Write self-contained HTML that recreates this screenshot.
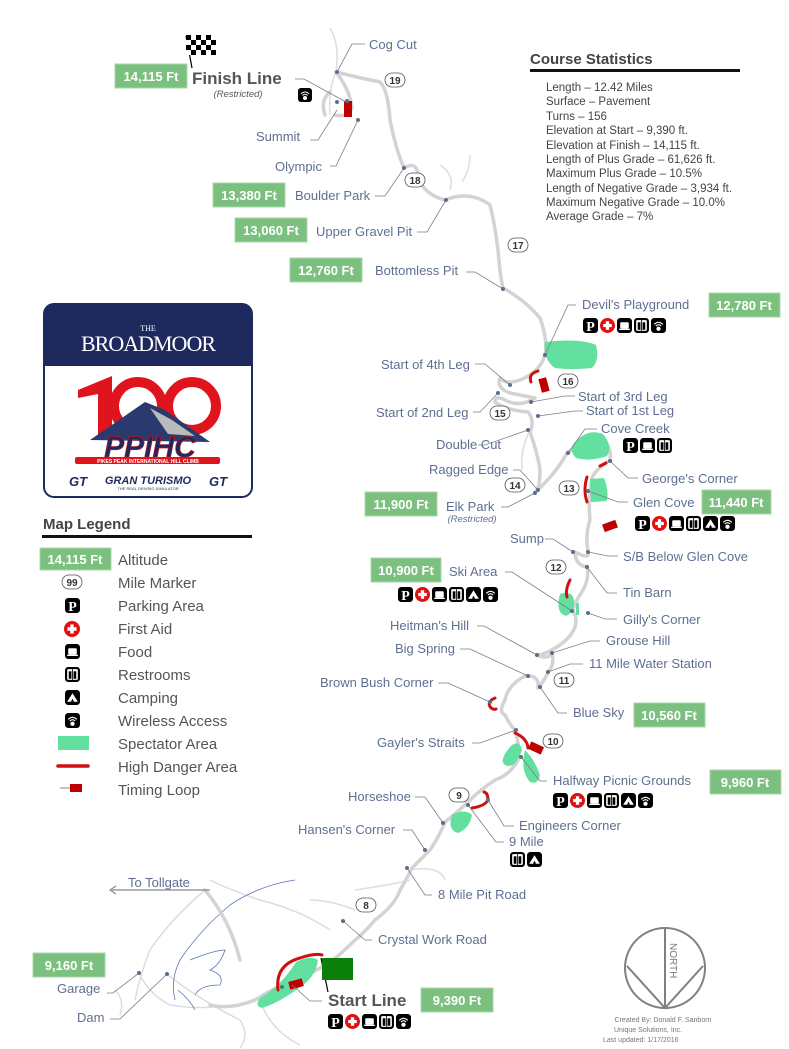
<!DOCTYPE html>
<html><head><meta charset="utf-8"><style>
html,body{margin:0;padding:0;background:#fff;}
svg{display:block;}
.l{font-family:"Liberation Sans",sans-serif;font-size:13px;fill:#5f6f91;}
.alt{font-family:"Liberation Sans",sans-serif;font-size:13px;font-weight:bold;fill:#fff;text-anchor:middle;}
.lg{font-family:"Liberation Sans",sans-serif;font-size:15px;fill:#555;}
.st{font-family:"Liberation Sans",sans-serif;font-size:11.5px;fill:#444;}
.mm{font-family:"Liberation Sans",sans-serif;font-size:10px;font-weight:bold;fill:#333;text-anchor:middle;}
.ld{stroke:#7a7f88;stroke-width:0.8;fill:none;}
.rd{stroke:#d3d3d3;stroke-width:3.5;fill:none;stroke-linecap:round;stroke-linejoin:round;}
.rd2{stroke:#ddd;stroke-width:1.5;fill:none;}
.dot{fill:#5b6f8a;}
.sp{fill:#63e0a0;}
.dg{stroke:#d01010;stroke-width:3;fill:none;stroke-linecap:round;}
</style></head><body>
<svg width="789" height="1049" viewBox="0 0 789 1049" xmlns="http://www.w3.org/2000/svg">
<defs>
<symbol id="iP" viewBox="0 0 14 14"><rect width="14" height="14" rx="3" fill="#000"/><text x="7" y="12" font-family="Liberation Serif,serif" font-weight="bold" font-size="13" fill="#fff" text-anchor="middle">P</text></symbol>
<symbol id="iA" viewBox="0 0 14 14"><circle cx="7" cy="7" r="7" fill="#e01010"/><rect x="5.5" y="3" width="3" height="8" fill="#fff"/><rect x="3" y="5.5" width="8" height="3" fill="#fff"/></symbol>
<symbol id="iF" viewBox="0 0 14 14"><rect width="14" height="14" rx="3" fill="#000"/><rect x="3" y="4" width="8" height="6" rx="1" fill="#fff"/><rect x="2" y="10" width="10" height="1.2" fill="#fff"/></symbol>
<symbol id="iR" viewBox="0 0 14 14"><rect width="14" height="14" rx="3" fill="#000"/><rect x="2" y="2" width="10" height="10" rx="1" fill="#fff"/><rect x="3.5" y="4" width="2.5" height="7" fill="#000"/><rect x="8" y="4" width="2.5" height="7" fill="#000"/><rect x="6.7" y="2" width="0.8" height="10" fill="#000"/></symbol>
<symbol id="iC" viewBox="0 0 14 14"><rect width="14" height="14" rx="3" fill="#000"/><polygon points="7,3 12,11 2,11" fill="#fff"/><polygon points="7,8 8.5,11 5.5,11" fill="#000"/></symbol>
<symbol id="iW" viewBox="0 0 14 14"><rect width="14" height="14" rx="3" fill="#000"/><path d="M3,6 Q7,2 11,6 M4.5,7.5 Q7,5 9.5,7.5" stroke="#fff" stroke-width="1" fill="none"/><circle cx="7" cy="10" r="2" fill="#fff"/></symbol>
</defs>

<g class="rd2">
<path d="M330,28 Q340,45 336,72"/>
<path d="M336,72 Q328,90 330,115"/>
<path d="M440,165 Q455,175 450,190 M462,182 Q470,170 470,155"/>
<path d="M530,430 Q520,450 522,470"/>
<path d="M210,880 Q230,890 260,900 Q300,910 330,930"/>
<path d="M205,890 Q170,920 150,950 Q140,975 135,1000"/>
<path d="M140,975 Q150,995 170,1005 Q200,1010 230,1005"/>
<path d="M168,975 Q200,1000 240,1020"/>
<path d="M240,1020 Q250,1035 240,1048"/>
<path d="M260,1000 Q270,1030 300,1045"/>
<path d="M355,910 Q330,900 310,900"/>
<path d="M355,890 Q390,885 410,880"/>
<path d="M410,870 Q440,865 445,880"/>
<path d="M115,990 Q125,1000 120,1015"/>
</g>
<g stroke="#5874b0" stroke-width="0.8" fill="none">
<path d="M295,880 Q260,885 230,905 Q200,930 180,960 Q170,980 175,1000"/>
<path d="M190,960 Q215,950 225,950 Q220,965 210,970 Q225,975 220,985 Q200,985 195,995"/>
<path d="M178,990 Q190,1000 195,1010"/>
</g>

<path class="rd" d="M336,72 Q360,78 380,82 Q388,90 390,120 Q396,150 404,168 Q418,160 418,178 Q425,195 445,200 Q470,190 490,205 Q495,225 498,250 Q500,275 503,288 Q525,300 540,318 Q548,340 545,355 Q540,372 520,380 Q505,385 500,378 Q496,388 510,393 Q525,396 535,398 Q520,408 505,400 Q495,395 495,402 Q505,410 528,412 Q535,420 530,432 Q538,455 540,470 Q540,488 535,492 Q555,475 567,453 Q585,440 600,438 Q612,445 610,460 Q595,470 592,478 Q588,500 590,520 Q585,535 588,552 Q590,560 575,552 Q575,565 587,567 Q590,580 580,595 Q570,610 575,615 Q580,630 560,645 Q545,655 537,655 Q548,660 552,653 Q555,665 548,672 Q545,680 538,688 Q540,675 525,676 Q508,685 505,700 Q498,712 505,715 Q510,725 515,730 Q520,745 518,760 Q510,775 495,780 Q480,790 470,800 Q460,810 445,822 Q440,835 430,850 Q418,862 412,868 Q405,882 400,890 Q395,905 375,920 Q362,935 355,940 Q340,955 330,962 Q310,975 290,982 Q270,990 255,1000"/>
<path class="rd" d="M336,72 Q350,90 352,108 Q348,118 335,115 M330,92 Q320,100 325,115"/>
<path class="rd" stroke-width="2" d="M255,1000 Q230,1010 210,1005 M205,890 Q230,920 240,960"/>

<path class="sp" d="M545,342 Q580,338 596,345 Q600,360 592,368 Q570,370 555,368 Q543,360 545,342Z"/>
<path class="sp" d="M575,442 Q588,428 603,434 Q613,446 607,456 Q590,462 576,458 Q568,450 575,442Z"/>
<path class="sp" d="M590,479 L604,478 Q609,490 607,501 L591,502 Z"/>
<path class="sp" d="M560,594 Q572,590 574,600 Q575,612 566,616 Q555,613 560,594Z"/>
<path class="sp" d="M576,603 L579,603 L579,615 L576,615Z"/>
<path class="sp" d="M512,745 Q520,740 522,750 Q515,770 505,765 Q498,760 512,745Z"/>
<path class="sp" d="M525,750 Q535,760 540,775 Q538,785 530,782 Q520,770 525,750Z"/>
<path class="sp" d="M452,815 Q465,808 472,815 Q470,828 458,833 Q447,830 452,815Z"/>
<path class="sp" d="M296,962 Q310,955 318,960 Q316,978 296,990 Q278,1003 262,1008 Q254,1006 260,998 Q282,985 296,962Z"/>

<path class="dg" d="M538,371 Q528,374 531,382"/>
<path class="dg" d="M587,477 Q583,490 587,502"/>
<path class="dg" d="M600,466 L606,463"/>
<path class="dg" d="M570,580 Q565,590 567,597"/>
<path class="dg" d="M495,698 Q486,702 491,708 Q494,710 496,709"/>
<path class="dg" d="M515,733 Q527,738 528,748"/>
<path class="dg" d="M472,808 Q485,806 488,800 Q488,793 484,792"/>
<path class="dg" d="M278,990 Q275,965 300,958 Q315,953 322,955"/>

<rect x="344" y="101" width="8" height="16" fill="#c00000"/>
<rect x="540" y="378" width="8" height="14" fill="#c00000" transform="rotate(-15 544 385)"/>
<rect x="603" y="522" width="14" height="8" fill="#c00000" transform="rotate(-20 610 526)"/>
<rect x="529" y="744" width="14" height="8" fill="#c00000" transform="rotate(25 536 748)"/>
<rect x="289" y="980" width="14" height="8" fill="#c00000" transform="rotate(-15 296 984)"/>

<g class="ld">
<path d="M337,72 L352,44 L365,44"/>
<path d="M295,79 L304,79 L346,102"/>
<path d="M310,140 L318,140 L337,110"/>
<path d="M330,166 L336,166 L358,120"/>
<path d="M375,196 L385,196 L404,168"/>
<path d="M417,232 L427,232 L446,200"/>
<path d="M466,272 L475,272 L503,289"/>
<path d="M576,305 L568,305 L545,355"/>
<path d="M475,364 L485,364 L510,385"/>
<path d="M575,396 L565,396 L531,402"/>
<path d="M473,412 L480,412 L498,393"/>
<path d="M583,411 L575,411 L538,416"/>
<path d="M478,445 L485,445 L528,430"/>
<path d="M597,429 L585,429 L568,453"/>
<path d="M513,470 L520,470 L538,490"/>
<path d="M638,478 L628,478 L610,461"/>
<path d="M501,507 L508,507 L535,493"/>
<path d="M628,502 L618,502 L588,491"/>
<path d="M545,539 L553,539 L573,552"/>
<path d="M618,556 L608,556 L588,552"/>
<path d="M505,572 L512,572 L572,611"/>
<path d="M617,593 L607,593 L587,567"/>
<path d="M617,619 L605,619 L588,613"/>
<path d="M477,626 L484,626 L537,655"/>
<path d="M600,641 L590,641 L552,653"/>
<path d="M460,649 L470,649 L528,676"/>
<path d="M583,664 L570,664 L548,672"/>
<path d="M438,683 L448,683 L490,702"/>
<path d="M567,713 L558,713 L540,687"/>
<path d="M472,743 L480,743 L516,730"/>
<path d="M547,781 L540,781 L521,757"/>
<path d="M415,797 L425,797 L443,823"/>
<path d="M514,826 L504,826 L488,800"/>
<path d="M504,842 L496,842 L468,805"/>
<path d="M403,830 L412,830 L425,850"/>
<path d="M432,895 L425,895 L407,868"/>
<path d="M372,940 L365,940 L343,921"/>
<path d="M107,993 L113,993 L139,973"/>
<path d="M110,1019 L120,1019 L167,974"/>
<path d="M322,1001 L310,1001 L292,985"/>
</g>
<g class="dot">
<circle cx="337" cy="72" r="2"/><circle cx="347" cy="101" r="2"/><circle cx="337" cy="102" r="2"/><circle cx="358" cy="120" r="2"/>
<circle cx="404" cy="168" r="2"/><circle cx="446" cy="200" r="2"/><circle cx="503" cy="289" r="2"/><circle cx="545" cy="355" r="2"/>
<circle cx="510" cy="385" r="2"/><circle cx="531" cy="402" r="2"/><circle cx="498" cy="393" r="2"/><circle cx="538" cy="416" r="2"/>
<circle cx="528" cy="430" r="2"/><circle cx="568" cy="453" r="2"/><circle cx="538" cy="490" r="2"/><circle cx="610" cy="461" r="2"/>
<circle cx="535" cy="493" r="2"/><circle cx="588" cy="491" r="2"/><circle cx="573" cy="552" r="2"/><circle cx="588" cy="552" r="2"/>
<circle cx="572" cy="611" r="2"/><circle cx="587" cy="567" r="2"/><circle cx="588" cy="613" r="2"/><circle cx="537" cy="655" r="2"/>
<circle cx="552" cy="653" r="2"/><circle cx="528" cy="676" r="2"/><circle cx="548" cy="672" r="2"/><circle cx="490" cy="702" r="2"/>
<circle cx="540" cy="687" r="2"/><circle cx="516" cy="730" r="2"/><circle cx="521" cy="757" r="2"/><circle cx="443" cy="823" r="2"/>
<circle cx="488" cy="800" r="2"/><circle cx="468" cy="805" r="2"/><circle cx="425" cy="850" r="2"/><circle cx="407" cy="868" r="2"/>
<circle cx="343" cy="921" r="2"/><circle cx="139" cy="973" r="2"/><circle cx="167" cy="974" r="2"/><circle cx="282" cy="987" r="2"/>
</g>

<g>
<g transform="translate(395,80)"><rect x="-10" y="-7" width="20" height="14" rx="7" fill="#fff" stroke="#555" stroke-width="0.8"/><text class="mm" y="4">19</text></g>
<g transform="translate(415,180)"><rect x="-10" y="-7" width="20" height="14" rx="7" fill="#fff" stroke="#555" stroke-width="0.8"/><text class="mm" y="4">18</text></g>
<g transform="translate(518,245)"><rect x="-10" y="-7" width="20" height="14" rx="7" fill="#fff" stroke="#555" stroke-width="0.8"/><text class="mm" y="4">17</text></g>
<g transform="translate(568,381)"><rect x="-10" y="-7" width="20" height="14" rx="7" fill="#fff" stroke="#555" stroke-width="0.8"/><text class="mm" y="4">16</text></g>
<g transform="translate(500,413)"><rect x="-10" y="-7" width="20" height="14" rx="7" fill="#fff" stroke="#555" stroke-width="0.8"/><text class="mm" y="4">15</text></g>
<g transform="translate(515,485)"><rect x="-10" y="-7" width="20" height="14" rx="7" fill="#fff" stroke="#555" stroke-width="0.8"/><text class="mm" y="4">14</text></g>
<g transform="translate(569,488)"><rect x="-10" y="-7" width="20" height="14" rx="7" fill="#fff" stroke="#555" stroke-width="0.8"/><text class="mm" y="4">13</text></g>
<g transform="translate(556,567)"><rect x="-10" y="-7" width="20" height="14" rx="7" fill="#fff" stroke="#555" stroke-width="0.8"/><text class="mm" y="4">12</text></g>
<g transform="translate(564,680)"><rect x="-10" y="-7" width="20" height="14" rx="7" fill="#fff" stroke="#555" stroke-width="0.8"/><text class="mm" y="4">11</text></g>
<g transform="translate(553,741)"><rect x="-10" y="-7" width="20" height="14" rx="7" fill="#fff" stroke="#555" stroke-width="0.8"/><text class="mm" y="4">10</text></g>
<g transform="translate(459,795)"><rect x="-10" y="-7" width="20" height="14" rx="7" fill="#fff" stroke="#555" stroke-width="0.8"/><text class="mm" y="4">9</text></g>
<g transform="translate(366,905)"><rect x="-10" y="-7" width="20" height="14" rx="7" fill="#fff" stroke="#555" stroke-width="0.8"/><text class="mm" y="4">8</text></g>
<g transform="translate(72,582)"><rect x="-10" y="-7" width="20" height="14" rx="7" fill="#fff" stroke="#555" stroke-width="0.8"/><text class="mm" y="4" font-weight="normal">99</text></g>
</g>

<g>
<rect x="115" y="64" width="72" height="24" fill="#7cc07f" stroke="#a8d8a8"/><text class="alt" x="151" y="81">14,115 Ft</text>
<rect x="213" y="183" width="72" height="24" fill="#7cc07f" stroke="#a8d8a8"/><text class="alt" x="249" y="200">13,380 Ft</text>
<rect x="235" y="218" width="72" height="24" fill="#7cc07f" stroke="#a8d8a8"/><text class="alt" x="271" y="235">13,060 Ft</text>
<rect x="290" y="258" width="72" height="24" fill="#7cc07f" stroke="#a8d8a8"/><text class="alt" x="326" y="275">12,760 Ft</text>
<rect x="709" y="293" width="71" height="24" fill="#7cc07f" stroke="#a8d8a8"/><text class="alt" x="744" y="310">12,780 Ft</text>
<rect x="365" y="492" width="72" height="24" fill="#7cc07f" stroke="#a8d8a8"/><text class="alt" x="401" y="509">11,900 Ft</text>
<rect x="702" y="490" width="69" height="24" fill="#7cc07f" stroke="#a8d8a8"/><text class="alt" x="736" y="507">11,440 Ft</text>
<rect x="371" y="558" width="70" height="24" fill="#7cc07f" stroke="#a8d8a8"/><text class="alt" x="406" y="575">10,900 Ft</text>
<rect x="634" y="703" width="71" height="24" fill="#7cc07f" stroke="#a8d8a8"/><text class="alt" x="669" y="720">10,560 Ft</text>
<rect x="710" y="770" width="71" height="24" fill="#7cc07f" stroke="#a8d8a8"/><text class="alt" x="745" y="787">9,960 Ft</text>
<rect x="33" y="953" width="72" height="24" fill="#7cc07f" stroke="#a8d8a8"/><text class="alt" x="69" y="970">9,160 Ft</text>
<rect x="421" y="988" width="72" height="24" fill="#7cc07f" stroke="#a8d8a8"/><text class="alt" x="457" y="1005">9,390 Ft</text>
<rect x="40" y="548" width="71" height="22" fill="#7cc07f" stroke="#a8d8a8"/><text class="alt" x="75" y="564">14,115 Ft</text>
</g>

<g>
<line x1="186" y1="36" x2="192" y2="68" stroke="#000" stroke-width="1.2"/>
<rect x="186" y="35" width="30" height="20" fill="#fff"/>
<g fill="#000">
<rect x="186" y="35" width="5" height="5"/><rect x="196" y="35" width="5" height="5"/><rect x="206" y="35" width="5" height="5"/>
<rect x="191" y="40" width="5" height="5"/><rect x="201" y="40" width="5" height="5"/><rect x="211" y="40" width="5" height="5"/>
<rect x="186" y="45" width="5" height="5"/><rect x="196" y="45" width="5" height="5"/><rect x="206" y="45" width="5" height="5"/>
<rect x="191" y="50" width="5" height="5"/><rect x="201" y="50" width="5" height="5"/><rect x="211" y="50" width="5" height="5"/>
</g>
<line x1="321" y1="958" x2="328" y2="992" stroke="#000" stroke-width="1.2"/>
<rect x="322" y="958" width="31" height="22" fill="#0a7f0a"/>
</g>

<text x="192" y="84" font-family="Liberation Sans,sans-serif" font-size="17" font-weight="bold" fill="#555">Finish Line</text>
<text x="238" y="97" font-family="Liberation Sans,sans-serif" font-size="9.5" font-style="italic" fill="#555" text-anchor="middle">(Restricted)</text>
<text x="328" y="1006" font-family="Liberation Sans,sans-serif" font-size="17" font-weight="bold" fill="#555">Start Line</text>
<g>
<text class="l" x="369" y="49">Cog Cut</text>
<text class="l" x="256" y="141">Summit</text>
<text class="l" x="275" y="171">Olympic</text>
<text class="l" x="295" y="200">Boulder Park</text>
<text class="l" x="316" y="236">Upper Gravel Pit</text>
<text class="l" x="375" y="275">Bottomless Pit</text>
<text class="l" x="582" y="309">Devil's Playground</text>
<text class="l" x="381" y="369">Start of 4th Leg</text>
<text class="l" x="578" y="401">Start of 3rd Leg</text>
<text class="l" x="376" y="417">Start of 2nd Leg</text>
<text class="l" x="586" y="415">Start of 1st Leg</text>
<text class="l" x="436" y="449">Double Cut</text>
<text class="l" x="601" y="433">Cove Creek</text>
<text class="l" x="429" y="474">Ragged Edge</text>
<text class="l" x="642" y="483">George's Corner</text>
<text class="l" x="446" y="511">Elk Park</text>
<text x="472" y="522" font-family="Liberation Sans,sans-serif" font-size="9.5" font-style="italic" fill="#5f6f91" text-anchor="middle">(Restricted)</text>
<text class="l" x="633" y="507">Glen Cove</text>
<text class="l" x="510" y="543">Sump</text>
<text class="l" x="623" y="561">S/B Below Glen Cove</text>
<text class="l" x="449" y="576">Ski Area</text>
<text class="l" x="623" y="597">Tin Barn</text>
<text class="l" x="623" y="624">Gilly's Corner</text>
<text class="l" x="390" y="630">Heitman's Hill</text>
<text class="l" x="606" y="645">Grouse Hill</text>
<text class="l" x="395" y="653">Big Spring</text>
<text class="l" x="589" y="668">11 Mile Water Station</text>
<text class="l" x="320" y="687">Brown Bush Corner</text>
<text class="l" x="573" y="717">Blue Sky</text>
<text class="l" x="377" y="747">Gayler's Straits</text>
<text class="l" x="553" y="785">Halfway Picnic Grounds</text>
<text class="l" x="348" y="801">Horseshoe</text>
<text class="l" x="519" y="830">Engineers Corner</text>
<text class="l" x="509" y="846">9 Mile</text>
<text class="l" x="298" y="834">Hansen's Corner</text>
<text class="l" x="128" y="887">To Tollgate</text>
<text class="l" x="438" y="899">8 Mile Pit Road</text>
<text class="l" x="378" y="944">Crystal Work Road</text>
<text class="l" x="57" y="993">Garage</text>
<text class="l" x="77" y="1022">Dam</text>
</g>
<line x1="112" y1="890" x2="210" y2="890" stroke="#888" stroke-width="1.2"/>
<path d="M116,886 L110,890 L116,894" stroke="#888" stroke-width="1.2" fill="none"/>

<use href="#iW" x="298" y="88" width="14" height="14"/>
<g>
<use href="#iP" x="583" y="318" width="15" height="15"/><use href="#iA" x="600" y="318" width="15" height="15"/><use href="#iF" x="617" y="318" width="15" height="15"/><use href="#iR" x="634" y="318" width="15" height="15"/><use href="#iW" x="651" y="318" width="15" height="15"/>
<use href="#iP" x="623" y="438" width="15" height="15"/><use href="#iF" x="640" y="438" width="15" height="15"/><use href="#iR" x="657" y="438" width="15" height="15"/>
<use href="#iP" x="635" y="516" width="15" height="15"/><use href="#iA" x="652" y="516" width="15" height="15"/><use href="#iF" x="669" y="516" width="15" height="15"/><use href="#iR" x="686" y="516" width="15" height="15"/><use href="#iC" x="703" y="516" width="15" height="15"/><use href="#iW" x="720" y="516" width="15" height="15"/>
<use href="#iP" x="398" y="587" width="15" height="15"/><use href="#iA" x="415" y="587" width="15" height="15"/><use href="#iF" x="432" y="587" width="15" height="15"/><use href="#iR" x="449" y="587" width="15" height="15"/><use href="#iC" x="466" y="587" width="15" height="15"/><use href="#iW" x="483" y="587" width="15" height="15"/>
<use href="#iP" x="553" y="793" width="15" height="15"/><use href="#iA" x="570" y="793" width="15" height="15"/><use href="#iF" x="587" y="793" width="15" height="15"/><use href="#iR" x="604" y="793" width="15" height="15"/><use href="#iC" x="621" y="793" width="15" height="15"/><use href="#iW" x="638" y="793" width="15" height="15"/>
<use href="#iR" x="510" y="852" width="15" height="15"/><use href="#iC" x="527" y="852" width="15" height="15"/>
<use href="#iP" x="328" y="1014" width="15" height="15"/><use href="#iA" x="345" y="1014" width="15" height="15"/><use href="#iF" x="362" y="1014" width="15" height="15"/><use href="#iR" x="379" y="1014" width="15" height="15"/><use href="#iW" x="396" y="1014" width="15" height="15"/>
</g>

<text x="530" y="64" font-family="Liberation Sans,sans-serif" font-size="15" font-weight="bold" fill="#444">Course Statistics</text>
<rect x="530" y="69" width="210" height="3" fill="#111"/>
<text class="st" x="546" y="91">Length – 12.42 Miles</text>
<text class="st" x="546" y="105">Surface – Pavement</text>
<text class="st" x="546" y="120">Turns – 156</text>
<text class="st" x="546" y="134">Elevation at Start – 9,390 ft.</text>
<text class="st" x="546" y="149">Elevation at Finish – 14,115 ft.</text>
<text class="st" x="546" y="163">Length of Plus Grade – 61,626 ft.</text>
<text class="st" x="546" y="177">Maximum Plus Grade – 10.5%</text>
<text class="st" x="546" y="192">Length of Negative Grade – 3,934 ft.</text>
<text class="st" x="546" y="206">Maximum Negative Grade – 10.0%</text>
<text class="st" x="546" y="220">Average Grade – 7%</text>

<!-- logo -->
<rect x="44" y="304" width="208" height="193" rx="10" fill="#fff" stroke="#1e2a5e" stroke-width="2"/>
<path d="M44,366 L44,314 Q44,304 54,304 L242,304 Q252,304 252,314 L252,366 Z" fill="#1e2a5e"/>
<text x="148" y="331" font-family="Liberation Serif,serif" font-size="8" fill="#fff" text-anchor="middle">THE</text>
<text x="148" y="351" font-family="Liberation Serif,serif" font-size="22" fill="#fff" text-anchor="middle" letter-spacing="-1">BROADMOOR</text>
<path d="M78,390 L112,376 L112,438 L98,438 L98,394 L78,398 Z" fill="#e0141c"/>
<circle cx="138" cy="406" r="24" fill="none" stroke="#e0141c" stroke-width="10"/>
<circle cx="192" cy="406" r="24" fill="none" stroke="#e0141c" stroke-width="10"/>
<path d="M90,440 L145,402 L165,410 L210,442 Z" fill="#2b3a6e"/>
<path d="M150,408 L172,420 L195,436 L168,434 Z" fill="#bbb"/>
<text x="150" y="457" font-family="Liberation Sans,sans-serif" font-size="30" font-weight="bold" font-style="italic" fill="#1e2a5e" text-anchor="middle" stroke="#e0141c" stroke-width="0.6">PPIHC</text>
<rect x="75" y="457" width="145" height="7" rx="2" fill="#e0141c"/>
<text x="148" y="463" font-family="Liberation Sans,sans-serif" font-size="5" font-weight="bold" fill="#fff" text-anchor="middle">PIKES PEAK INTERNATIONAL HILL CLIMB</text>
<text x="148" y="484" font-family="Liberation Sans,sans-serif" font-size="11" font-weight="bold" font-style="italic" fill="#1e2a5e" text-anchor="middle">GRAN TURISMO</text>
<text x="148" y="490" font-family="Liberation Sans,sans-serif" font-size="4" fill="#1e2a5e" text-anchor="middle">THE REAL DRIVING SIMULATOR</text>
<text x="78" y="486" font-family="Liberation Sans,sans-serif" font-size="13" font-weight="bold" font-style="italic" fill="#1e2a5e" text-anchor="middle">GT</text>
<text x="218" y="486" font-family="Liberation Sans,sans-serif" font-size="13" font-weight="bold" font-style="italic" fill="#1e2a5e" text-anchor="middle">GT</text>

<text x="43" y="529" font-family="Liberation Sans,sans-serif" font-size="15" font-weight="bold" fill="#444">Map Legend</text>
<rect x="42" y="535" width="210" height="3" fill="#111"/>
<g>
<text class="lg" x="118" y="565">Altitude</text>
<text class="lg" x="118" y="588">Mile Marker</text>
<text class="lg" x="118" y="611">Parking Area</text>
<text class="lg" x="118" y="634">First Aid</text>
<text class="lg" x="118" y="657">Food</text>
<text class="lg" x="118" y="680">Restrooms</text>
<text class="lg" x="118" y="703">Camping</text>
<text class="lg" x="118" y="726">Wireless Access</text>
<text class="lg" x="118" y="749">Spectator Area</text>
<text class="lg" x="118" y="772">High Danger Area</text>
<text class="lg" x="118" y="795">Timing Loop</text>
</g>
<use href="#iP" x="65" y="598" width="15" height="15"/>
<use href="#iA" x="64" y="621" width="16" height="16"/>
<use href="#iF" x="65" y="644" width="15" height="15"/>
<use href="#iR" x="65" y="667" width="15" height="15"/>
<use href="#iC" x="65" y="690" width="15" height="15"/>
<use href="#iW" x="65" y="713" width="15" height="15"/>
<rect x="58" y="736" width="31" height="14" fill="#63e0a0"/>
<line x1="58" y1="766" x2="88" y2="766" stroke="#d01010" stroke-width="3.5" stroke-linecap="round"/>
<line x1="60" y1="788" x2="70" y2="788" stroke="#666" stroke-width="0.8"/>
<rect x="70" y="784" width="12" height="8" fill="#c00000"/>

<circle cx="665" cy="968" r="40" fill="none" stroke="#808080" stroke-width="2"/>
<line x1="665" y1="928" x2="665" y2="1008" stroke="#808080" stroke-width="2"/>
<path d="M627,966 L665,1008 L703,966" fill="none" stroke="#808080" stroke-width="2"/>
<text transform="translate(670,943) rotate(90)" font-family="Liberation Sans,sans-serif" font-size="10" fill="#777">NORTH</text>
<text x="663" y="1022" font-family="Liberation Sans,sans-serif" font-size="7" fill="#777" text-anchor="middle">Created By: Donald F. Sanborn</text>
<text x="614" y="1032" font-family="Liberation Sans,sans-serif" font-size="7" fill="#777">Unique Solutions, Inc.</text>
<text x="603" y="1042" font-family="Liberation Sans,sans-serif" font-size="7" fill="#777">Last updated: 1/17/2016</text>
</svg>
</body></html>
